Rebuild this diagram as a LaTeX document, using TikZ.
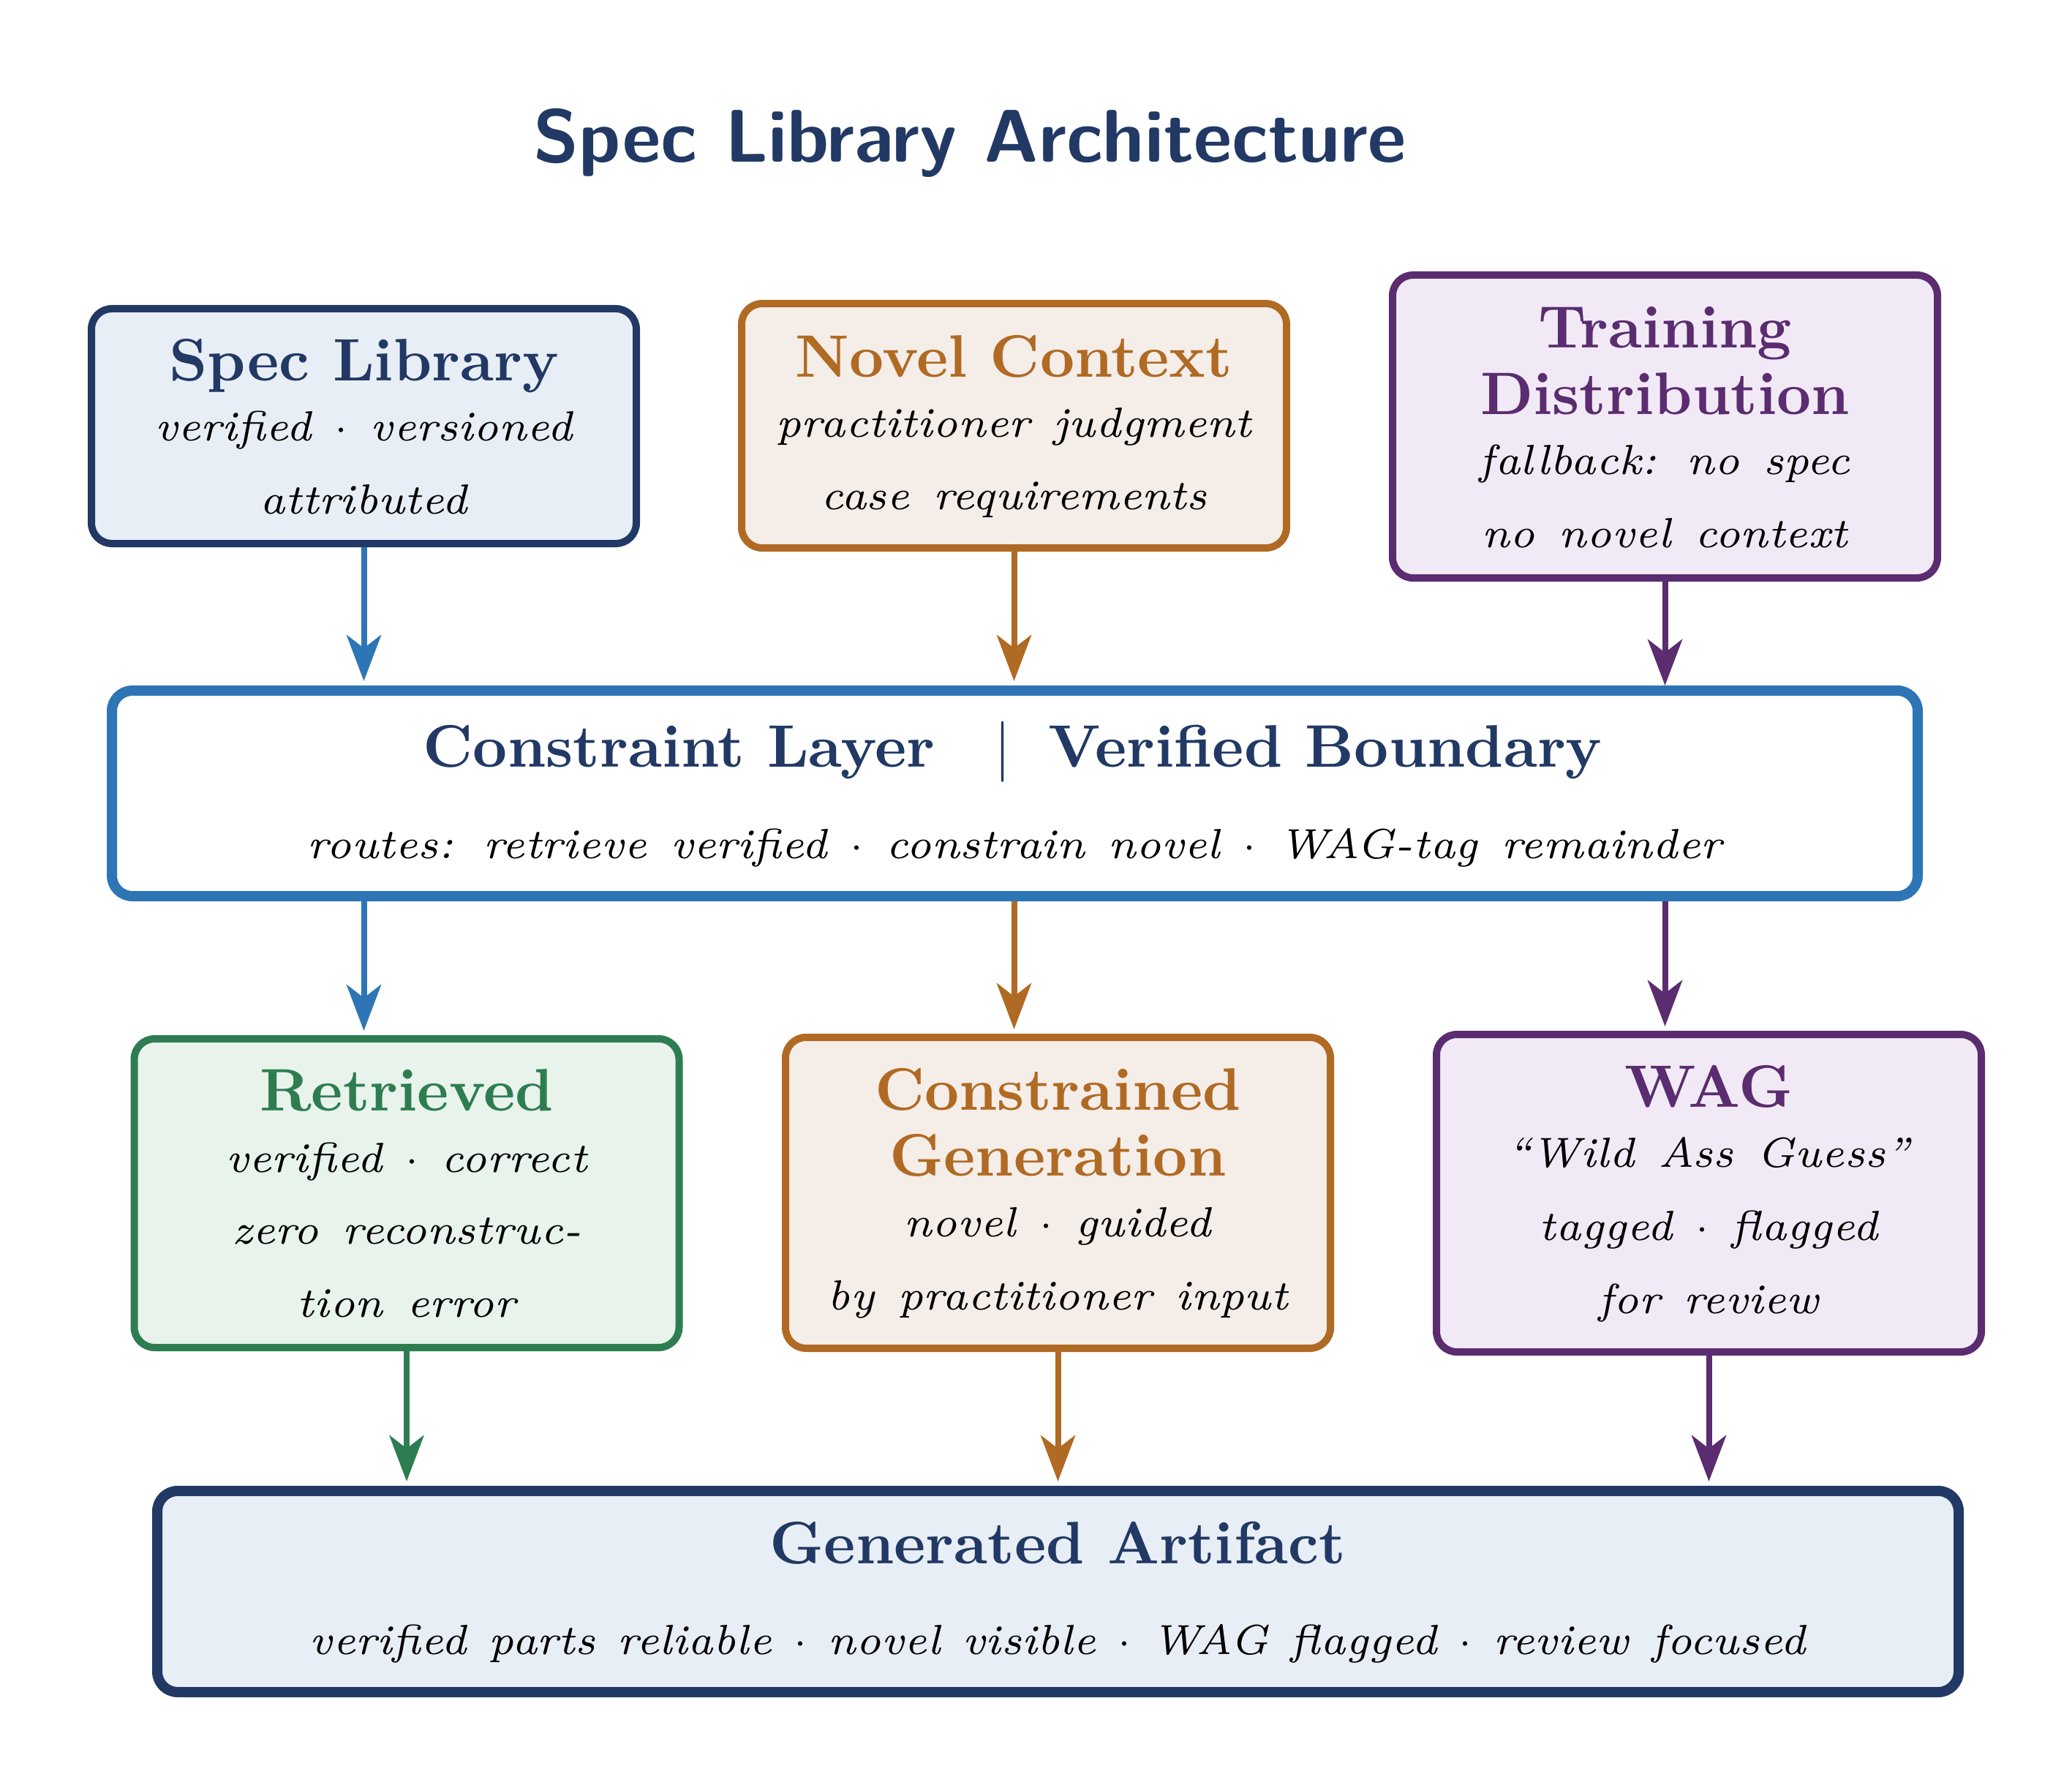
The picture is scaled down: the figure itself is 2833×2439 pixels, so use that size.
\documentclass[tikz,border=0pt]{standalone}
\usepackage{fontspec}
\usetikzlibrary{arrows.meta}
\newfontfamily\SevenItFam{lmroman7-italic.otf}
\newfontfamily\TenBfFam{lmroman10-bold.otf}
\definecolor{navy}{RGB}{33,57,100}
\definecolor{navyfill}{RGB}{232,238,245}
\definecolor{cblue}{RGB}{46,117,182}
\definecolor{corange}{RGB}{176,106,35}
\definecolor{orangefill}{RGB}{245,237,232}
\definecolor{cpurple}{RGB}{91,44,111}
\definecolor{purplefill}{RGB}{241,234,246}
\definecolor{cgreen}{RGB}{46,125,80}
\definecolor{greenfill}{RGB}{232,243,236}
\newcommand\HeadFont{\fontsize{20.5pt}{25pt}\TenBfFam}
\newcommand\SubFont{\fontsize{14.4pt}{25pt}\SevenItFam}
\newcommand\TitleFont{\fontsize{25.5pt}{30pt}\sffamily\bfseries}
% widen the interword space of the italic face a little
\begingroup\SubFont\global\fontdimen2\font=\dimexpr\fontdimen2\font+1.9pt\relax\endgroup
\tikzset{
  box/.style={draw, rounded corners=7pt, line width=2.5pt, inner sep=0pt, minimum width=186.25pt},
  bigbox/.style={box, line width=3.5pt},
  ttl/.style={anchor=base, inner sep=0pt, font=\HeadFont},
  sub/.style={anchor=base, inner sep=0pt, font=\SubFont, text=black},
  arr/.style={line width=2pt, -{Stealth[length=15.75pt,width=11.8pt,inset=4.5pt]}, shorten >=1.5pt},
}
\begin{document}
\begin{tikzpicture}[x=0.25pt,y=-0.25pt]
\useasboundingbox (0,0) rectangle (2833,2439);

% title
\node[anchor=base, inner sep=0pt, font=\TitleFont, text=navy] (title) at (1326,222) {Spec Library Architecture};

% top row boxes
\node[box, draw=navy, fill=navyfill, minimum height=80.25pt] (spec) at (497.5,582.5) {};
\node[box, draw=corange, fill=orangefill, minimum height=83.5pt] (novel) at (1386.5,582) {};
\node[box, draw=cpurple, fill=purplefill, minimum height=103.5pt] (train) at (2276.5,583) {};

% constraint layer
\node[bigbox, draw=cblue, fill=white, minimum width=617.25pt, minimum height=70.25pt] (cons) at (1387.5,1084.5) {};

% third row boxes
\node[box, draw=cgreen, fill=greenfill, minimum height=105.5pt] (ret) at (556,1631) {};
\node[box, draw=corange, fill=orangefill, minimum height=106.25pt] (cg) at (1446.5,1630.5) {};
\node[box, draw=cpurple, fill=purplefill, minimum height=108.5pt] (wag) at (2336.5,1631) {};

% artifact
\node[bigbox, draw=navy, fill=navyfill, minimum width=615.75pt, minimum height=68.75pt] (art) at (1446.5,2175.5) {};

% texts: spec library
\node[ttl, text=navy] (specT) at (497.5,520) {Spec Library};
\node[sub] (specA) at (497.5,602) {verified $\cdot$ versioned};
\node[sub] (specB) at (497.5,702) {attributed};

% novel context
\node[ttl, text=corange] (novelT) at (1386.5,515) {Novel Context};
\node[sub] (novelA) at (1386.5,597) {practitioner judgment};
\node[sub] (novelB) at (1386.5,696) {case requirements};

% training distribution
\node[ttl, text=cpurple] (trainT) at (2276.5,475) {Training};
\node[ttl, text=cpurple] (trainU) at (2276.5,566) {Distribution};
\node[sub] (trainA) at (2276.5,648) {fallback: no spec};
\node[sub] (trainB) at (2276.5,748) {no novel context};

% constraint layer
\node[ttl, text=navy, anchor=base east] (consT) at (1279,1048) {Constraint Layer};
\node[ttl, text=navy] (consBar) at (1371,1048) {$|$};
\node[ttl, text=navy, anchor=base west] (consU) at (1433,1048) {Verified Boundary};
\node[sub] (consA) at (1387.5,1173) {routes: retrieve verified $\cdot$ constrain novel $\cdot$ WAG-tag remainder};

% retrieved
\node[ttl, text=cgreen] (retT) at (556,1518) {Retrieved};
\node[sub] (retA) at (556,1602) {verified $\cdot$ correct};
\node[sub] (retB) at (556,1700) {zero reconstruc-};
\node[sub] (retC) at (556,1800) {tion error};

% constrained generation
\node[ttl, text=corange] (cgT) at (1446.5,1517) {Constrained};
\node[ttl, text=corange] (cgU) at (1446.5,1607) {Generation};
\node[sub] (cgA) at (1446.5,1690) {novel $\cdot$ guided};
\node[sub] (cgB) at (1446.5,1790) {by practitioner input};

% wag
\node[ttl, text=cpurple] (wagT) at (2336.5,1513) {WAG};
\node[sub] (wagA) at (2336.5,1595) {“Wild Ass Guess”};
\node[sub] (wagB) at (2336.5,1695) {tagged $\cdot$ flagged};
\node[sub] (wagC) at (2336.5,1795) {for review};

% artifact
\node[ttl, text=navy] (artT) at (1446.5,2137) {Generated Artifact};
\node[sub] (artA) at (1446.5,2261) {\spaceskip=\dimexpr\fontdimen2\font-0.45pt\relax plus 1pt minus 1pt verified parts reliable $\cdot$ novel visible $\cdot$ WAG flagged $\cdot$ review focused};

% arrows top row -> constraint
\draw[arr, cblue] (spec.south) -- (spec.south |- cons.north);
\draw[arr, corange] (novel.south) -- (novel.south |- cons.north);
\draw[arr, cpurple, shorten >=0pt] (train.south) -- (train.south |- cons.north);

% constraint -> third row
\draw[arr, cblue] (cons.south -| spec.south) -- (ret.north -| spec.south);
\draw[arr, corange] (cons.south -| novel.south) -- (cg.north -| novel.south);
\draw[arr, cpurple] (cons.south -| train.south) -- (wag.north -| train.south);

% third row -> artifact
\draw[arr, cgreen] (ret.south) -- (ret.south |- art.north);
\draw[arr, corange] (cg.south) -- (cg.south |- art.north);
\draw[arr, cpurple] (wag.south) -- (wag.south |- art.north);
\end{tikzpicture}
\end{document}
